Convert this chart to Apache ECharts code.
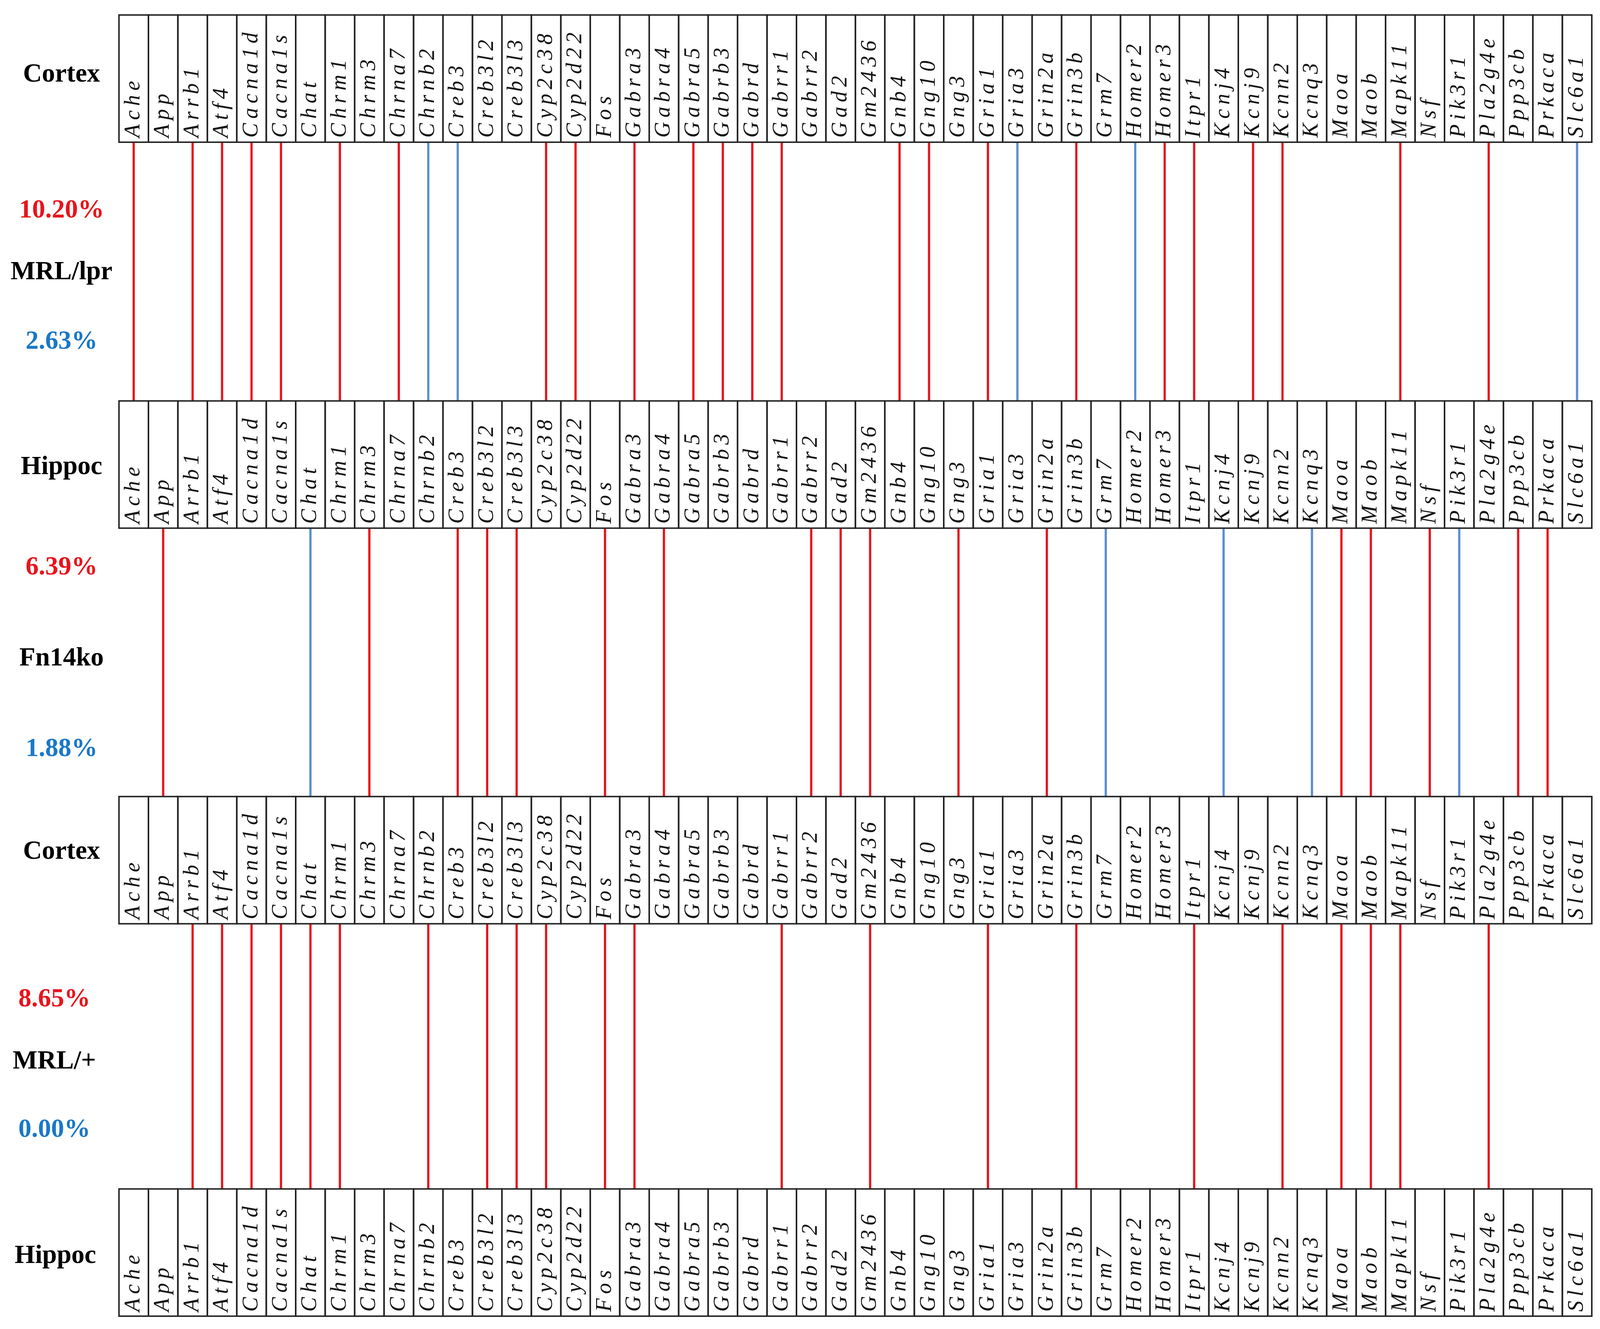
<!DOCTYPE html>
<html><head><meta charset="utf-8">
<script src="https://cdn.jsdelivr.net/npm/echarts@6/dist/echarts.min.js"></script>
<style>html,body{margin:0;background:#fff;overflow:hidden}#c{width:100vw;height:100vh}</style>
</head><body><div id="c"></div>
<script>
var genes = ["Ache","App","Arrb1","Atf4","Cacna1d","Cacna1s","Chat","Chrm1","Chrm3","Chrna7","Chrnb2","Creb3","Creb3l2","Creb3l3","Cyp2c38","Cyp2d22","Fos","Gabra3","Gabra4","Gabra5","Gabrb3","Gabrd","Gabrr1","Gabrr2","Gad2","Gm2436","Gnb4","Gng10","Gng3","Gria1","Gria3","Grin2a","Grin3b","Grm7","Homer2","Homer3","Itpr1","Kcnj4","Kcnj9","Kcnn2","Kcnq3","Maoa","Maob","Mapk11","Nsf","Pik3r1","Pla2g4e","Ppp3cb","Prkaca","Slc6a1"];
// linked genes per comparison
var up1 = ["Ache","Arrb1","Atf4","Cacna1d","Cacna1s","Chrm1","Chrna7","Cyp2c38","Cyp2d22","Gabra3","Gabra5","Gabrb3","Gabrd","Gabrr1","Gnb4","Gng10","Gria1","Grin3b","Homer3","Itpr1","Kcnj9","Kcnn2","Mapk11","Pla2g4e"];
var down1 = ["Chrnb2","Creb3","Gria3","Homer2","Slc6a1"];
var up2 = ["App","Chrm3","Creb3","Creb3l2","Creb3l3","Fos","Gabra4","Gabrr2","Gad2","Gm2436","Gng3","Grin2a","Maoa","Maob","Nsf","Ppp3cb","Prkaca"];
var down2 = ["Chat","Grm7","Kcnj4","Kcnq3","Pik3r1"];
var up3 = ["Arrb1","Atf4","Cacna1d","Cacna1s","Chat","Chrm1","Chrnb2","Creb3l2","Creb3l3","Cyp2c38","Fos","Gabra3","Gabrr1","Gm2436","Gria1","Grin3b","Itpr1","Kcnn2","Maoa","Maob","Mapk11","Pla2g4e"];
var down3 = [];
var groupNames = ["MRL/lpr","Fn14ko","MRL/+"];
var upPct = ["10.20%","6.39%","8.65%"];
var downPct = ["2.63%","1.88%","0.00%"];

var RED = "#e8141c", BLUE = "#5b8fd0", BLUE_T = "#1a78c8";
var el = document.getElementById("c");
var chart = echarts.init(el);
var W = chart.getWidth(), H = chart.getHeight();
var SX = W / 1560, SY = H / 1243, F = W / 4271;

var rowTop = [14, 375, 745, 1112], rowH = 119;
var boxData = [];
rowTop.forEach(function (t) { genes.forEach(function (g, i) { boxData.push([i, t, t + rowH, g]); }); });
var lineData = [];
[[up1, down1], [up2, down2], [up3, down3]].forEach(function (p, k) {
  var y1 = rowTop[k] + rowH, y2 = rowTop[k + 1];
  p[0].forEach(function (g) { lineData.push([genes.indexOf(g), y1, y2, 0]); });
  p[1].forEach(function (g) { lineData.push([genes.indexOf(g), y1, y2, 1]); });
});

var graphics = [];
function label(text, yDisp, color, xDisp) {
  graphics.push({ type: "text", x: (xDisp || 60) * SX, y: yDisp * SY,
    style: { text: text, fill: color, font: "bold " + Math.round(70 * F) + "px 'Liberation Serif'", textAlign: "center", textVerticalAlign: "middle" } });
}
label("Cortex", 70, "#000"); label("Hippoc", 437, "#000"); label("Cortex", 797, "#000"); label("Hippoc", 1175, "#000", 54);
var midY = [[197, 255, 320], [531, 616, 701], [935, 993, 1057]];
for (var k = 0; k < 3; k++) {
  var lx = k == 2 ? 53 : 60;
  label(upPct[k], midY[k][0], RED, lx);
  label(groupNames[k], midY[k][1], "#000", lx);
  label(downPct[k], midY[k][2], BLUE_T, lx);
}
function spaced(s) { return s.split("").join("\u2009"); }

chart.setOption({
  animation: false,
  grid: { left: 116 * SX, right: W - 1552 * SX, top: 14 * SY, bottom: H - 1232 * SY },
  xAxis: { type: "category", data: genes, show: false },
  yAxis: { type: "value", min: 14, max: 1232, inverse: true, show: false },
  graphic: graphics,
  series: [
    { type: "custom", data: lineData, z: 1,
      renderItem: function (p, api) {
        var a = api.coord([api.value(0), api.value(1)]), b = api.coord([api.value(0), api.value(2)]);
        return { type: "line", shape: { x1: a[0], y1: a[1], x2: b[0], y2: b[1] },
          style: { stroke: api.value(3) ? BLUE : RED, lineWidth: 6 * F } };
      } },
    { type: "custom", data: boxData, z: 2,
      renderItem: function (p, api) {
        var a = api.coord([api.value(0), api.value(1)]), b = api.coord([api.value(0), api.value(2)]);
        var w = api.size([1, 0])[0];
        return { type: "group", children: [
          { type: "rect", shape: { x: a[0] - w / 2, y: a[1], width: w, height: b[1] - a[1] },
            style: { fill: "none", stroke: "#222", lineWidth: 4 * F } },
          { type: "text", x: a[0], y: b[1] - 12 * F, rotation: Math.PI / 2,
            style: { text: spaced(boxData[p.dataIndex][3]), fill: "#111", font: "italic " + Math.round(58 * F) + "px 'Liberation Serif'",
              textAlign: "left", textVerticalAlign: "middle" } }
        ] };
      } }
  ]
});
</script></body></html>
